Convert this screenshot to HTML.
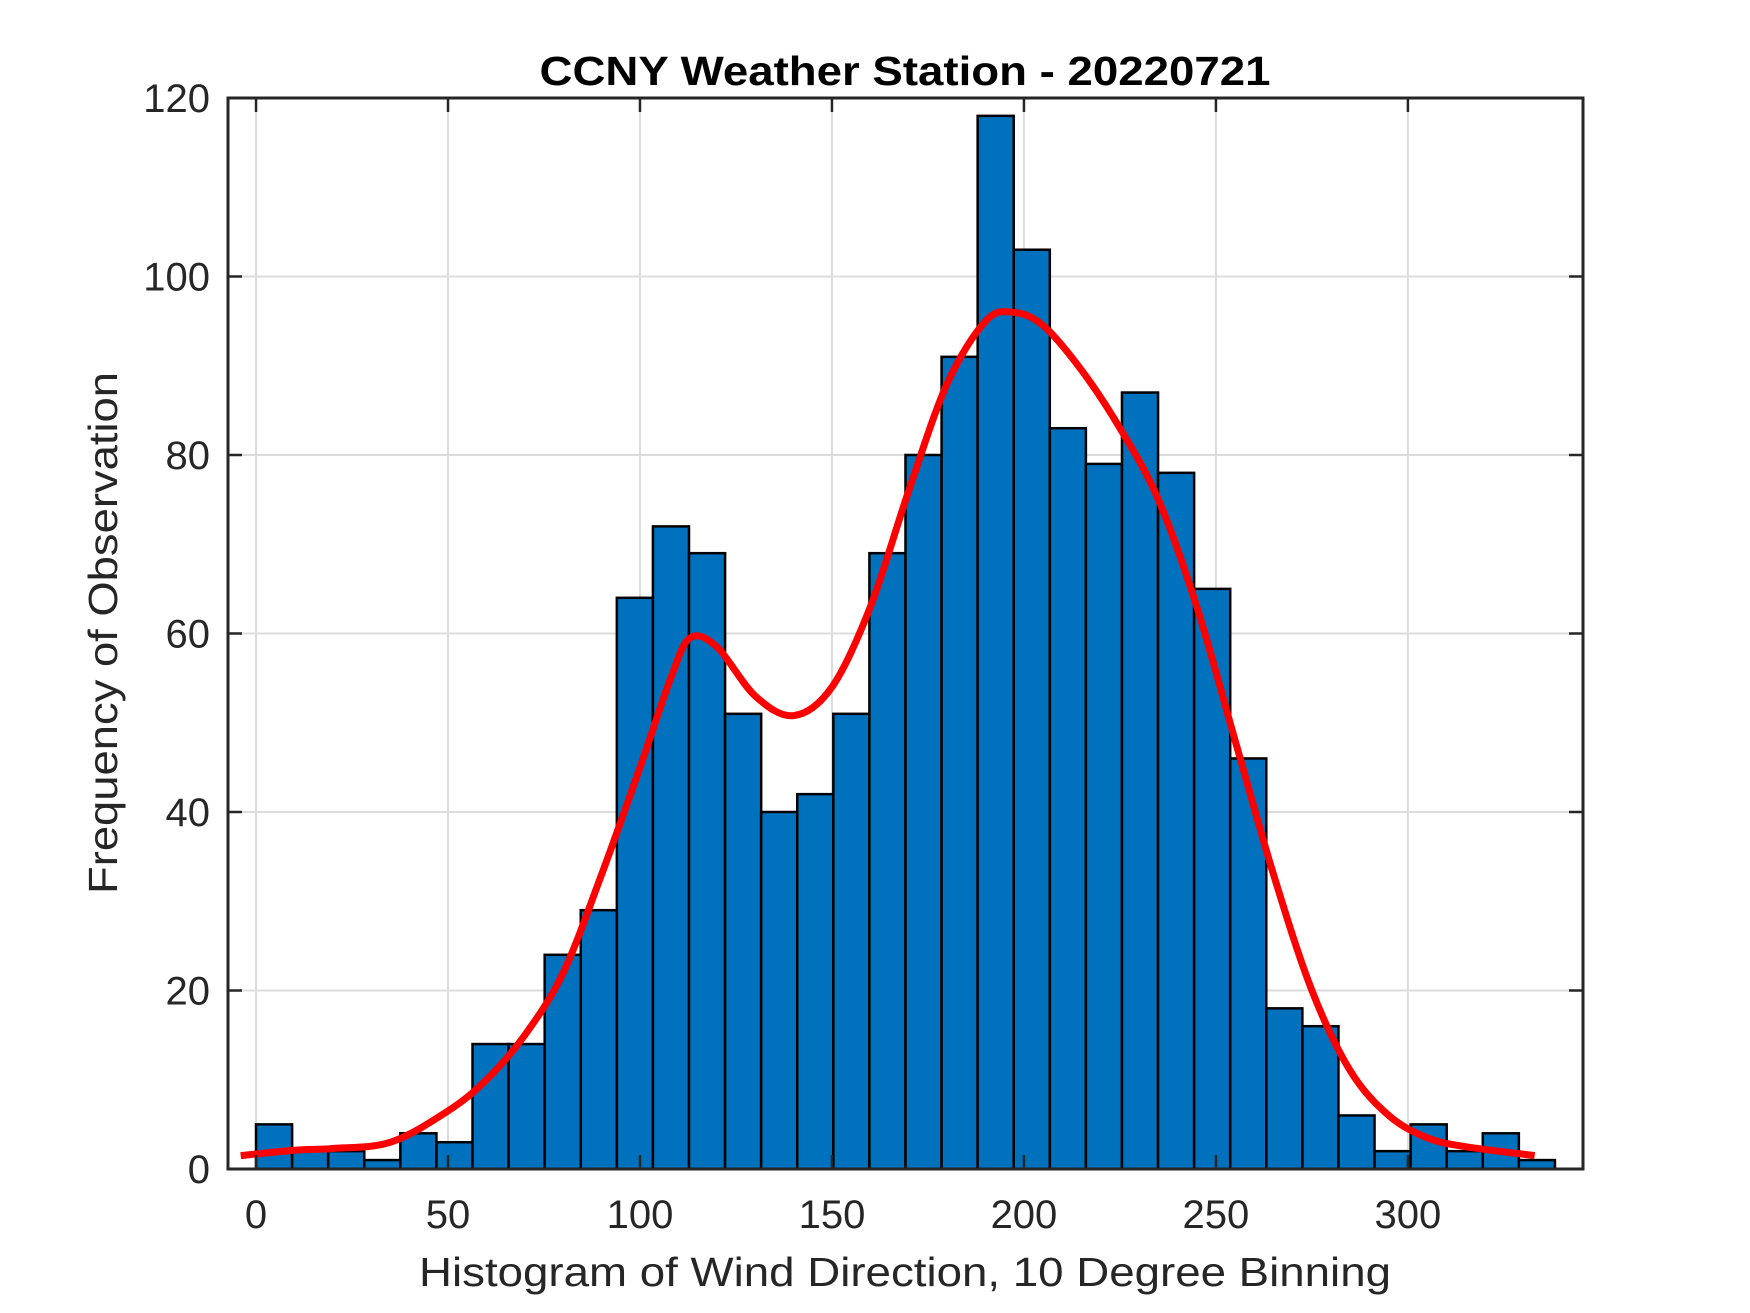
<!DOCTYPE html>
<html><head><meta charset="utf-8"><style>
html,body{margin:0;padding:0;background:#fff;}
svg{display:block;font-family:"Liberation Sans",Arial,sans-serif;}
</style></head><body>
<svg id="chart" width="1750" height="1313" viewBox="0 0 1750 1313" xmlns="http://www.w3.org/2000/svg">
<rect width="1750" height="1313" fill="#fff"/>
<g id="grid"></g>
<g id="bars"></g>
<g id="curve"></g>
<g id="axes"></g>
<text x="905" y="85" text-anchor="middle" font-size="41" font-weight="bold" fill="#000" textLength="731" lengthAdjust="spacingAndGlyphs">CCNY Weather Station - 20220721</text>
<text x="905" y="1286" text-anchor="middle" font-size="41" fill="#262626" textLength="972" lengthAdjust="spacingAndGlyphs">Histogram of Wind Direction, 10 Degree Binning</text>
<text transform="translate(117,633) rotate(-90)" text-anchor="middle" font-size="41" fill="#262626" textLength="522" lengthAdjust="spacingAndGlyphs">Frequency of Observation</text>
</svg>
<script>
const counts = [5,2,2,1,4,3,14,14,24,29,64,72,69,51,40,42,51,69,80,91,118,103,83,79,87,78,65,46,18,16,6,2,5,2,4,1];
const binStart = 0;
const binWidth = 9.397;
const xTicks = [0,50,100,150,200,250,300];
const yTicks = [0,20,40,60,80,100,120];
const curveX = [-4,10,20,35,50,60,70,80,90,100,108,113,120,130,140,150,160,170,180,190,197,205,215,225,235,245,255,265,275,285,295,305,315,333];
const curveY = [1.5,2.1,2.3,3,6.5,10,15,22,33,45,55,59.5,58.5,53,50.8,54,63,76,88,95,96,94.5,89.5,83,75,63,48,33,20,11,6,3.5,2.5,1.5];

const L=228,R=1583,T=98,B=1169;
const xMin=-7.3,xMax=345.6,yMin=0,yMax=120;
const sx=v=>L+(v-xMin)/(xMax-xMin)*(R-L);
const sy=v=>B-(v-yMin)/(yMax-yMin)*(B-T);
const NS="http://www.w3.org/2000/svg";
function mk(tag,attrs,parent){const e=document.createElementNS(NS,tag);for(const k in attrs)e.setAttribute(k,attrs[k]);parent.appendChild(e);return e;}
const grid=document.getElementById('grid'),bars=document.getElementById('bars'),curve=document.getElementById('curve'),axes=document.getElementById('axes');

xTicks.forEach(t=>{
  const g=mk('line',{x1:sx(t),x2:sx(t),y1:T,y2:B,stroke:'#dcdcdc','stroke-width':2},grid);
  
  
});
yTicks.forEach(t=>{
  const g=mk('line',{x1:L,x2:R,y1:sy(t),y2:sy(t),stroke:'#dcdcdc','stroke-width':2},grid);
  
  
});

counts.forEach((c,i)=>{
  const x0=sx(binStart+i*binWidth),x1=sx(binStart+(i+1)*binWidth);
  const r=mk('rect',{x:x0,y:sy(c),width:x1-x0,height:sy(0)-sy(c),fill:'#0072bd',stroke:'#000','stroke-width':2.5},bars);
  
  
});

const pts=curveX.map((x,i)=>[sx(x),sy(curveY[i])]);
let d='M'+pts[0][0]+','+pts[0][1];
for(let i=0;i<pts.length-1;i++){
  const p0=pts[Math.max(0,i-1)],p1=pts[i],p2=pts[i+1],p3=pts[Math.min(pts.length-1,i+2)];
  const c1=[p1[0]+(p2[0]-p0[0])/6,p1[1]+(p2[1]-p0[1])/6];
  const c2=[p2[0]-(p3[0]-p1[0])/6,p2[1]-(p3[1]-p1[1])/6];
  d+=' C'+c1[0]+','+c1[1]+' '+c2[0]+','+c2[1]+' '+p2[0]+','+p2[1];
}
const pth=mk('path',{d:d,fill:'none',stroke:'#ff0000','stroke-width':7,'stroke-linejoin':'round'},curve);



const box=mk('rect',{x:L,y:T,width:R-L,height:B-T,fill:'none',stroke:'#262626','stroke-width':3},axes);


xTicks.forEach(t=>{
  mk('line',{x1:sx(t),x2:sx(t),y1:B,y2:B-14,stroke:'#262626','stroke-width':2.5},axes);
  mk('line',{x1:sx(t),x2:sx(t),y1:T,y2:T+14,stroke:'#262626','stroke-width':2.5},axes);
  const tx=mk('text',{x:sx(t),y:1228,'text-anchor':'middle','font-size':40,fill:'#262626'},axes);
  tx.textContent=t;
  
  
});
yTicks.forEach(t=>{
  mk('line',{x1:L,x2:L+14,y1:sy(t),y2:sy(t),stroke:'#262626','stroke-width':2.5},axes);
  mk('line',{x1:R,x2:R-14,y1:sy(t),y2:sy(t),stroke:'#262626','stroke-width':2.5},axes);
  const tx=mk('text',{x:210,y:sy(t)+14,'text-anchor':'end','font-size':40,fill:'#262626'},axes);
  tx.textContent=t;
  
  
});
</script>
</body></html>
